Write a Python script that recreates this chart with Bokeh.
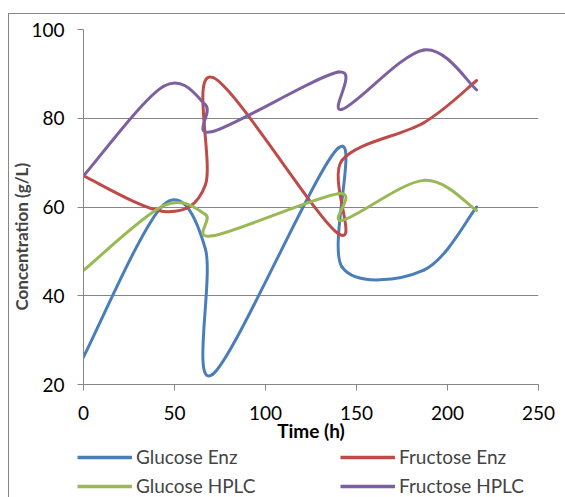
from bokeh.plotting import figure
from bokeh.layouts import column
from bokeh.models import Range1d, FixedTicker, Legend, LegendItem, Title
from bokeh.embed import file_html
from bokeh.resources import INLINE

# ---- data ----
time_h = [0, 44, 67, 71, 140, 142, 187, 216]
glucose_enz = [26.2, 60.5, 50.5, 22.3, 73.3, 46.5, 45.8, 60.0]
fructose_enz = [67.0, 59.0, 65.0, 89.2, 54.0, 70.5, 79.0, 88.5]
glucose_hplc = [45.7, 60.3, 58.3, 53.5, 63.0, 57.0, 66.0, 59.2]
fructose_hplc = [67.0, 87.2, 83.0, 77.0, 90.4, 82.0, 95.4, 86.4]

series_names = ["Glucose Enz", "Fructose Enz", "Glucose HPLC", "Fructose HPLC"]
series_values = [glucose_enz, fructose_enz, glucose_hplc, fructose_hplc]
colors = ["#4A7EBB", "#BE4B48", "#98B954", "#7D60A0"]
x_ticks = [0, 50, 100, 150, 200, 250]
y_ticks = [20, 40, 60, 80, 100]

FONT = "Lato"
FS = "19px"
GRAY = "#868686"
MAIN_H = 446
LEG_H = 497 - MAIN_H


def smooth_segments(xs, ys):
    """Bezier control points for a smoothed line through the data points."""
    n = len(xs)
    out = dict(x0=[], y0=[], x1=[], y1=[], cx0=[], cy0=[], cx1=[], cy1=[])
    for i in range(n - 1):
        im = max(i - 1, 0)
        ip2 = min(i + 2, n - 1)
        out["x0"].append(xs[i]); out["y0"].append(ys[i])
        out["x1"].append(xs[i + 1]); out["y1"].append(ys[i + 1])
        out["cx0"].append(xs[i] + (xs[i + 1] - xs[im]) / 6.0)
        out["cy0"].append(ys[i] + (ys[i + 1] - ys[im]) / 6.0)
        out["cx1"].append(xs[i + 1] - (xs[ip2] - xs[i]) / 6.0)
        out["cy1"].append(ys[i + 1] - (ys[ip2] - ys[i]) / 6.0)
    return out


p = figure(width=565, height=MAIN_H, output_backend="svg", toolbar_location=None,
           x_range=Range1d(0, 250), y_range=Range1d(20, 100),
           min_border_left=83, min_border_right=27, min_border_top=29,
           min_border_bottom=MAIN_H - 384)
p.frame_align = False
p.outline_line_color = None
p.background_fill_color = "white"
p.border_fill_color = None
# chart-area border (Excel style), shown through the transparent canvas border
p.styles = {
    "background-color": "white",
    "background-image": "linear-gradient(#868686,#868686), linear-gradient(#868686,#868686)",
    "background-size": "1px 500px, 560px 1px",
    "background-position": "8px 13px, 8px 13px",
    "background-repeat": "no-repeat",
}

p.xgrid.visible = False
p.ygrid.ticker = FixedTicker(ticks=y_ticks)
p.ygrid.grid_line_color = GRAY
p.ygrid.grid_line_width = 1

p.xaxis.ticker = FixedTicker(ticks=x_ticks)
p.yaxis.ticker = FixedTicker(ticks=y_ticks)
for ax in (p.xaxis, p.yaxis):
    ax.axis_line_color = GRAY
    ax.major_tick_line_color = GRAY
    ax.minor_tick_line_color = None
    ax.major_tick_out = 6
    ax.major_tick_in = 0
    ax.major_label_text_font = FONT
    ax.major_label_text_font_size = FS
    ax.major_label_text_color = "black"
p.xaxis.major_label_standoff = 15
p.yaxis.major_label_standoff = 13

p.xaxis.axis_label = "Time (h)"
p.xaxis.axis_label_standoff = -4
p.xaxis.axis_label_text_font = FONT
p.xaxis.axis_label_text_font_style = "bold"
p.xaxis.axis_label_text_font_size = FS
p.xaxis.axis_label_text_color = "black"

for name, vals, col in zip(series_names, series_values, colors):
    seg = smooth_segments(time_h, vals)
    p.bezier(x0=seg["x0"], y0=seg["y0"], x1=seg["x1"], y1=seg["y1"],
             cx0=seg["cx0"], cy0=seg["cy0"], cx1=seg["cx1"], cy1=seg["cy1"],
             line_color=col, line_width=3, line_cap="round", line_join="round")

# y-axis title as a left-panel title
p.add_layout(Title(text="Concentration (g/L)", align="left", offset=74, standoff=-6,
                   text_font=FONT, text_font_style="bold", text_font_size="17px"), "left")

# ---- legend strip below the chart ----
q = figure(width=565, height=LEG_H, output_backend="svg", toolbar_location=None,
           x_range=Range1d(0, 1), y_range=Range1d(0, 1),
           x_axis_type=None, y_axis_type=None,
           min_border_left=0, min_border_right=0, min_border_top=0, min_border_bottom=0)
q.frame_align = False
q.outline_line_color = None
q.grid.visible = False
q.background_fill_color = None
q.border_fill_color = None
q.styles = {
    "background-color": "white",
    "background-image": "linear-gradient(#868686,#868686)",
    "background-size": "1px 100px",
    "background-position": "8px 0px",
    "background-repeat": "no-repeat",
}
# legend swatches (single NaN point: nothing is drawn in the strip itself)
swatches = [q.line(x=[float("nan")], y=[float("nan")], line_color=c, line_width=3.5)
            for c in colors]

for cols, xloc in (((0, 2), 77), ((1, 3), 340)):
    items = [LegendItem(label=series_names[k], renderers=[swatches[k]]) for k in cols]
    lg = Legend(items=items, location=(xloc, 0), orientation="vertical",
                padding=0, margin=0, spacing=6, glyph_width=55, glyph_height=20,
                label_height=20, label_standoff=4,
                label_text_font=FONT, label_text_font_size=FS,
                border_line_alpha=0, background_fill_alpha=0)
    q.add_layout(lg, "center")

layout = column(p, q, spacing=0)
open("out.html", "w").write(file_html(layout, INLINE))
